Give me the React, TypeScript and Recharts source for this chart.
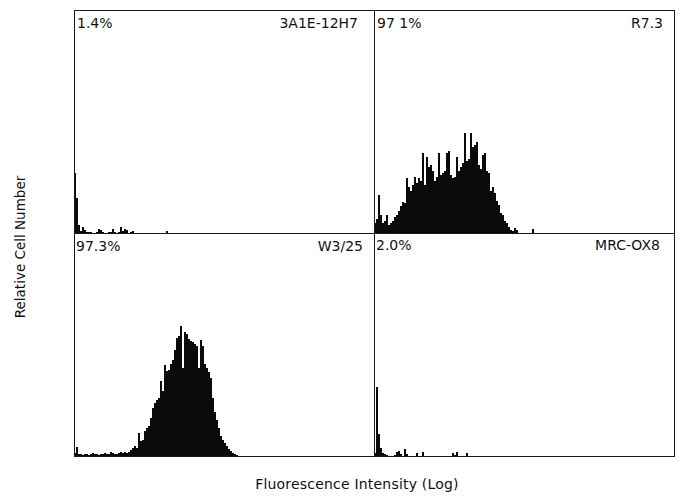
import React from "react";
import { AreaChart, Area, XAxis, YAxis } from "recharts";

// Histogram channel counts (relative cell number), one value per channel
const ch3A1E: number[] = [60, 35, 8, 2, 6, 3, 1, 1, 1, 0, 0, 1, 4, 3, 1, 0, 0, 1, 1, 4, 1, 0, 1, 6, 2, 4, 3, 0, 1, 2, 0, 0, 0, 0, 0, 0, 0, 0, 0, 0, 0, 0, 0, 0, 0, 0, 2, 0];
const chR73: number[] = [10, 14, 38, 18, 10, 12, 18, 8, 10, 12, 16, 18, 22, 27, 31, 30, 55, 46, 42, 48, 56, 50, 55, 52, 80, 48, 76, 66, 68, 62, 52, 56, 80, 58, 60, 62, 80, 82, 58, 55, 56, 76, 62, 66, 70, 100, 72, 74, 100, 86, 88, 91, 68, 64, 78, 80, 62, 60, 42, 46, 40, 32, 28, 20, 18, 12, 10, 6, 3, 2, 5, 3, 0, 0, 0, 0, 0, 0, 0, 4, 0];
const chW325: number[] = [3, 9, 2, 2, 1, 2, 2, 1, 2, 3, 2, 2, 1, 2, 2, 3, 2, 2, 4, 3, 2, 2, 3, 4, 3, 4, 3, 4, 6, 8, 10, 8, 23, 15, 16, 25, 28, 30, 38, 48, 53, 56, 58, 75, 65, 91, 85, 86, 92, 96, 106, 118, 120, 130, 88, 124, 122, 117, 115, 114, 112, 110, 88, 116, 110, 92, 88, 84, 78, 58, 44, 36, 28, 20, 16, 13, 10, 7, 5, 3, 2, 1, 0];
const chOX8: number[] = [3, 69, 22, 8, 3, 2, 1, 0, 0, 0, 1, 4, 5, 2, 0, 7, 2, 0, 0, 0, 0, 3, 0, 0, 4, 0, 0, 0, 0, 0, 0, 0, 0, 0, 0, 0, 0, 0, 0, 3, 1, 4, 0, 0, 0, 0, 3, 0];

const panelNames = ["3A1E-12H7", "R7.3", "W3/25", "MRC-OX8"];
const panelPercents = ["1.4%", "97 1%", "97.3%", "2.0%"];
const panelSeries = [ch3A1E, chR73, chW325, chOX8];

const FONT = "'DejaVu Sans', 'Liberation Sans', sans-serif";
const PW = 300;
const PH = 223;
const panelPos = [
  { left: 74, top: 10 },
  { left: 374, top: 10 },
  { left: 74, top: 233 },
  { left: 374, top: 233 },
];

function Panel({ series }: { series: number[] }) {
  const data = series.map((v, i) => ({ c: i, v }));
  return (
    <AreaChart width={PW} height={PH} data={data} margin={{ top: 0, right: 0, bottom: 0, left: 0 }}>
      <XAxis dataKey="c" type="number" domain={[0, 150]} hide />
      <YAxis type="number" domain={[0, 223]} hide />
      <Area
        type="stepAfter"
        dataKey="v"
        stroke="none"
        fill="#0a0a0a"
        fillOpacity={1}
        isAnimationActive={false}
        dot={false}
        activeDot={false}
      />
    </AreaChart>
  );
}

export default function App() {
  return (
    <div style={{ position: "absolute", left: 0, top: 0, width: 679, height: 504, background: "#fff" }}>
      {panelSeries.map((s, i) => (
        <div key={i} style={{ position: "absolute", left: panelPos[i].left, top: panelPos[i].top, width: PW, height: PH }}>
          <Panel series={s} />
        </div>
      ))}
      <svg width={679} height={504} style={{ position: "absolute", left: 0, top: 0, pointerEvents: "none" }}>
        <g stroke="#1a1a1a" strokeWidth={1}>
          <line x1={74.5} y1={10} x2={74.5} y2={457} />
          <line x1={374.5} y1={10} x2={374.5} y2={457} />
          <line x1={674.5} y1={10} x2={674.5} y2={457} />
          <line x1={74} y1={10.5} x2={675} y2={10.5} />
          <line x1={74} y1={233.5} x2={675} y2={233.5} />
          <line x1={74} y1={456.5} x2={675} y2={456.5} />
        </g>
        <g fontFamily={FONT} fontSize={14} fill="#111">
          <text x={77} y={27.5}>{panelPercents[0]}</text>
          <text x={358} y={27.5} textAnchor="end">{panelNames[0]}</text>
          <text x={377} y={27.5}>{panelPercents[1]}</text>
          <text x={663} y={27.5} textAnchor="end">{panelNames[1]}</text>
          <text x={76} y={251}>{panelPercents[2]}</text>
          <text x={363} y={251} textAnchor="end">{panelNames[2]}</text>
          <text x={376} y={250}>{panelPercents[3]}</text>
          <text x={660} y={250} textAnchor="end">{panelNames[3]}</text>
          <text x={357} y={489} textAnchor="middle" letterSpacing={0.2}>Fluorescence Intensity (Log)</text>
          <text x={25} y={247} textAnchor="middle" transform="rotate(-90 25 247)" fontSize={13.5}>Relative Cell Number</text>
        </g>
      </svg>
    </div>
  );
}
